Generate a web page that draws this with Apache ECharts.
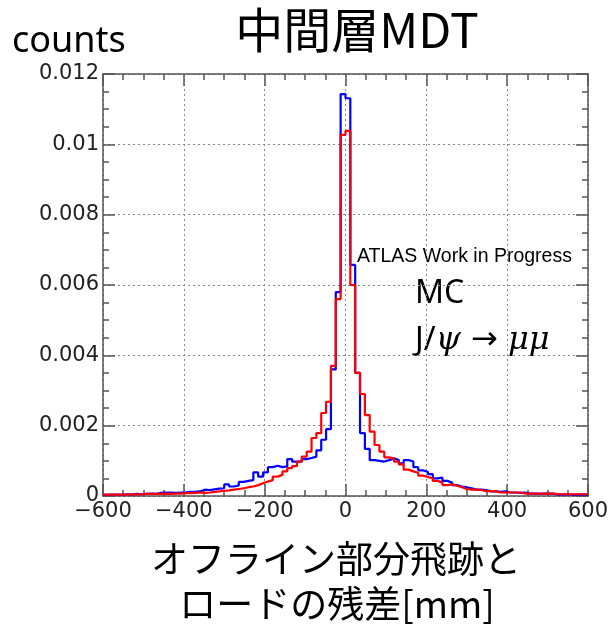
<!DOCTYPE html>
<html>
<head>
<meta charset="utf-8">
<script src="https://cdn.jsdelivr.net/npm/echarts@6/dist/echarts.min.js"></script>
<style>html,body{margin:0;padding:0;background:#fff}#c{width:611px;height:634px}</style>
</head>
<body>
<div id="c"></div>
<script>
// bin layout: 100 bins of 12 mm from -600 to 600
const binLow = -600;
const binWidth = 12;
const xTicks = [-600, -400, -200, 0, 200, 400, 600];
const yTicks = [0, 0.002, 0.004, 0.006, 0.008, 0.01, 0.012];

// blue histogram (bin contents, left to right)
const blueValues = [
  0.00003,0.00004,0.00004,0.00003,0.00005,0.00004,0.00006,0.00005,0.00006,0.00007,
  0.00006,0.00009,0.0001,0.0001,0.00009,0.0001,0.0001,0.00012,0.00012,0.00013,
  0.00018,0.00017,0.00019,0.00021,0.00022,0.00033,0.00027,0.0003,0.0004,0.00043,
  0.00045,0.00067,0.00055,0.00067,0.00082,0.00086,0.00082,0.00084,0.00105,0.00098,
  0.00098,0.00105,0.00108,0.00112,0.0013,0.0016,0.0019,0.0036,0.0058,0.01143,
  0.01131,0.00657,0.0035,0.00179,0.00134,0.00102,0.001,0.00098,0.00102,0.00107,
  0.00102,0.00093,0.00102,0.00098,0.00082,0.00073,0.00068,0.00062,0.0005,0.00052,
  0.00043,0.00038,0.00031,0.00027,0.00025,0.00022,0.00018,0.00018,0.00017,0.00013,
  0.00013,0.00012,0.00013,0.0001,0.0001,0.00009,0.0001,0.00007,0.00007,0.00006,
  0.00007,0.00007,0.00006,0.00004,0.00004,0.00005,0.00003,0.00004,0.00004,0.00003
];
// red histogram (bin contents, left to right)
const redValues = [
  0.00004,0.00004,0.00004,0.00004,0.00004,0.00005,0.00004,0.00005,0.00006,0.00006,
  0.00006,0.00006,0.00007,0.00006,0.00007,0.00007,0.00008,0.00008,0.00009,0.0001,
  0.00009,0.0001,0.00012,0.00013,0.00015,0.00016,0.00018,0.0002,0.00022,0.00025,
  0.00027,0.00031,0.00036,0.00041,0.00045,0.00055,0.0006,0.0007,0.00079,0.00085,
  0.00098,0.00112,0.00126,0.00165,0.00179,0.00236,0.00268,0.0037,0.0056,0.01027,
  0.01038,0.006,0.0035,0.0029,0.0023,0.00183,0.00145,0.00126,0.0011,0.00107,
  0.00098,0.0009,0.00075,0.0007,0.00066,0.00058,0.00054,0.0005,0.00043,0.00038,
  0.00031,0.00033,0.00029,0.00025,0.0002,0.00018,0.00018,0.00017,0.00014,0.00014,
  0.00013,0.0001,0.0001,0.0001,0.0001,0.0001,0.00007,0.00007,0.00007,0.00007,
  0.00007,0.00007,0.00007,0.00005,0.00005,0.00005,0.00005,0.00005,0.00005,0.00005
];

function steps(vals) {
  const pts = vals.map((v, i) => [binLow + i * binWidth, v]);
  pts.push([binLow + vals.length * binWidth, vals[vals.length - 1]]);
  return pts;
}

const chart = echarts.init(document.getElementById('c'), null, {renderer: 'canvas'});
const axisFont = '"DejaVu Sans", sans-serif';
const cjk = '"Noto Sans CJK JP", "Noto Sans", sans-serif';
const frameColor = '#555';
const gridStyle = {show: true, lineStyle: {color: '#888', type: [2, 3], width: 1}};

const baseX = {
  type: 'value', min: xTicks[0], max: xTicks[xTicks.length - 1], interval: 200,
  axisLine: {show: true, onZero: false, lineStyle: {color: frameColor, width: 1.5}},
  axisTick: {show: true, inside: true, length: 12, lineStyle: {color: frameColor, width: 1.5}},
  minorTick: {show: true, splitNumber: 4, length: 6, lineStyle: {color: frameColor, width: 1.5}},
  splitLine: {show: false}
};
const baseY = {
  type: 'value', min: yTicks[0], max: yTicks[yTicks.length - 1], interval: 0.002,
  axisLine: {show: true, onZero: false, lineStyle: {color: frameColor, width: 1.5}},
  axisTick: {show: true, inside: true, length: 12, lineStyle: {color: frameColor, width: 1.5}},
  minorTick: {show: true, splitNumber: 4, length: 6, lineStyle: {color: frameColor, width: 1.5}},
  splitLine: {show: false}
};

chart.setOption({
  animation: false,
  backgroundColor: '#fff',
  grid: {left: 103, right: 23, top: 74, bottom: 138, containLabel: false},
  xAxis: [
    Object.assign({}, baseX, {
      position: 'bottom',
      splitLine: gridStyle,
      axisLabel: {
        show: true, margin: 5, color: '#222', fontFamily: axisFont, fontSize: 21,
        formatter: v => String(v).replace('-', '\u2212')
      }
    }),
    Object.assign({}, baseX, {position: 'top', axisLabel: {show: false}})
  ],
  yAxis: [
    Object.assign({}, baseY, {
      position: 'left',
      splitLine: gridStyle,
      axisLabel: {
        show: true, margin: 4, color: '#222', fontFamily: axisFont, fontSize: 21,
        formatter: v => String(parseFloat(v.toFixed(4)))
      }
    }),
    Object.assign({}, baseY, {position: 'right', axisLabel: {show: false}})
  ],
  series: [
    {
      type: 'line', name: 'blue', step: 'end', data: steps(blueValues),
      xAxisIndex: 0, yAxisIndex: 0, symbol: 'none', clip: true,
      lineStyle: {color: '#0000ff', width: 2.2}, z: 3
    },
    {
      type: 'line', name: 'red', step: 'end', data: steps(redValues),
      xAxisIndex: 0, yAxisIndex: 0, symbol: 'none', clip: true,
      lineStyle: {color: '#ff0000', width: 2.2}, z: 4
    }
  ],
  graphic: [
    {type: 'text', x: 357, y: 6, style: {text: '中間層MDT', font: '48px ' + cjk, fill: '#000', textAlign: 'center'}},
    {type: 'text', x: 12, y: 24, style: {text: 'counts', font: '36px "Noto Sans", sans-serif', fill: '#000'}},
    {type: 'text', x: 357, y: 247, style: {text: 'ATLAS Work in Progress', font: '19.5px "Liberation Sans", Arial, sans-serif', fill: '#000'}},
    {type: 'text', x: 415, y: 278, style: {text: 'MC', font: '32px "Noto Sans", sans-serif', fill: '#000'}},
    {type: 'text', x: 415, y: 325, style: {
      text: '{n|J/}{g|ψ}{a| → }{g|μμ}',
      rich: {
        n: {font: '32px "Noto Sans", sans-serif', fill: '#000'},
        a: {font: '32px "DejaVu Sans", sans-serif', fill: '#000'},
        g: {font: 'italic 32px "DejaVu Serif", serif', fill: '#000'}
      }
    }},
    {type: 'text', x: 336, y: 540, style: {text: 'オフライン部分飛跡と', font: '37px ' + cjk, fill: '#000', textAlign: 'center'}},
    {type: 'text', x: 337, y: 585, style: {text: 'ロードの残差[mm]', font: '37px ' + cjk, fill: '#000', textAlign: 'center'}}
  ]
});
</script>
</body>
</html>
